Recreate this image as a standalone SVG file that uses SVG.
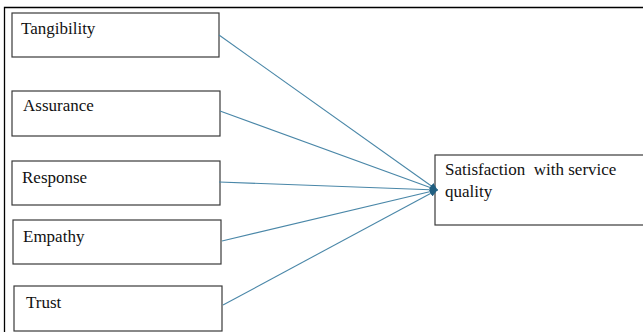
<svg xmlns="http://www.w3.org/2000/svg" width="643" height="332" viewBox="0 0 643 332">
<style>
.box{fill:#fff;stroke:#3a3a3a;stroke-width:1.2}
.conn{stroke:#4a87a8;stroke-width:1.1;fill:none}
</style>
<defs>
<marker id="ah" markerWidth="8" markerHeight="8" refX="7" refY="4" orient="auto" markerUnits="userSpaceOnUse">
<path d="M0,0.5 L8,4 L0,7.5 Z" fill="#215f80"/>
</marker>
</defs>
<rect width="643" height="332" fill="#fff"/>
<path d="M4.5,332 V7.5 H643" fill="none" stroke="#000" stroke-width="1.3"/>
<g font-family="Liberation Serif, Times New Roman, DejaVu Serif, serif" font-size="17" fill="#111">
<g id="node-tangibility"><rect class="box" x="12" y="13" width="207" height="44"/><text x="21" y="34">Tangibility</text></g>
<g id="node-assurance"><rect class="box" x="12" y="91" width="208" height="45"/><text x="23" y="111">Assurance</text></g>
<g id="node-response"><rect class="box" x="12" y="161" width="208" height="44"/><text x="22" y="183">Response</text></g>
<g id="node-empathy"><rect class="box" x="13" y="220" width="208" height="44"/><text x="23" y="242">Empathy</text></g>
<g id="node-trust"><rect class="box" x="14" y="286" width="208" height="45"/><text x="26" y="308">Trust</text></g>
<g id="node-satisfaction"><rect class="box" x="435" y="155" width="215" height="70"/><text x="445" y="175" xml:space="preserve">Satisfaction  with service</text><text x="445" y="197">quality</text></g>
</g>
<g id="connectors">
<line class="conn" x1="219" y1="35" x2="437" y2="190" marker-end="url(#ah)"/>
<line class="conn" x1="220" y1="111" x2="437" y2="190" marker-end="url(#ah)"/>
<line class="conn" x1="219" y1="182" x2="437" y2="190" marker-end="url(#ah)"/>
<line class="conn" x1="222" y1="241" x2="437" y2="190" marker-end="url(#ah)"/>
<line class="conn" x1="223" y1="305" x2="437" y2="190" marker-end="url(#ah)"/>
</g>
</svg>
